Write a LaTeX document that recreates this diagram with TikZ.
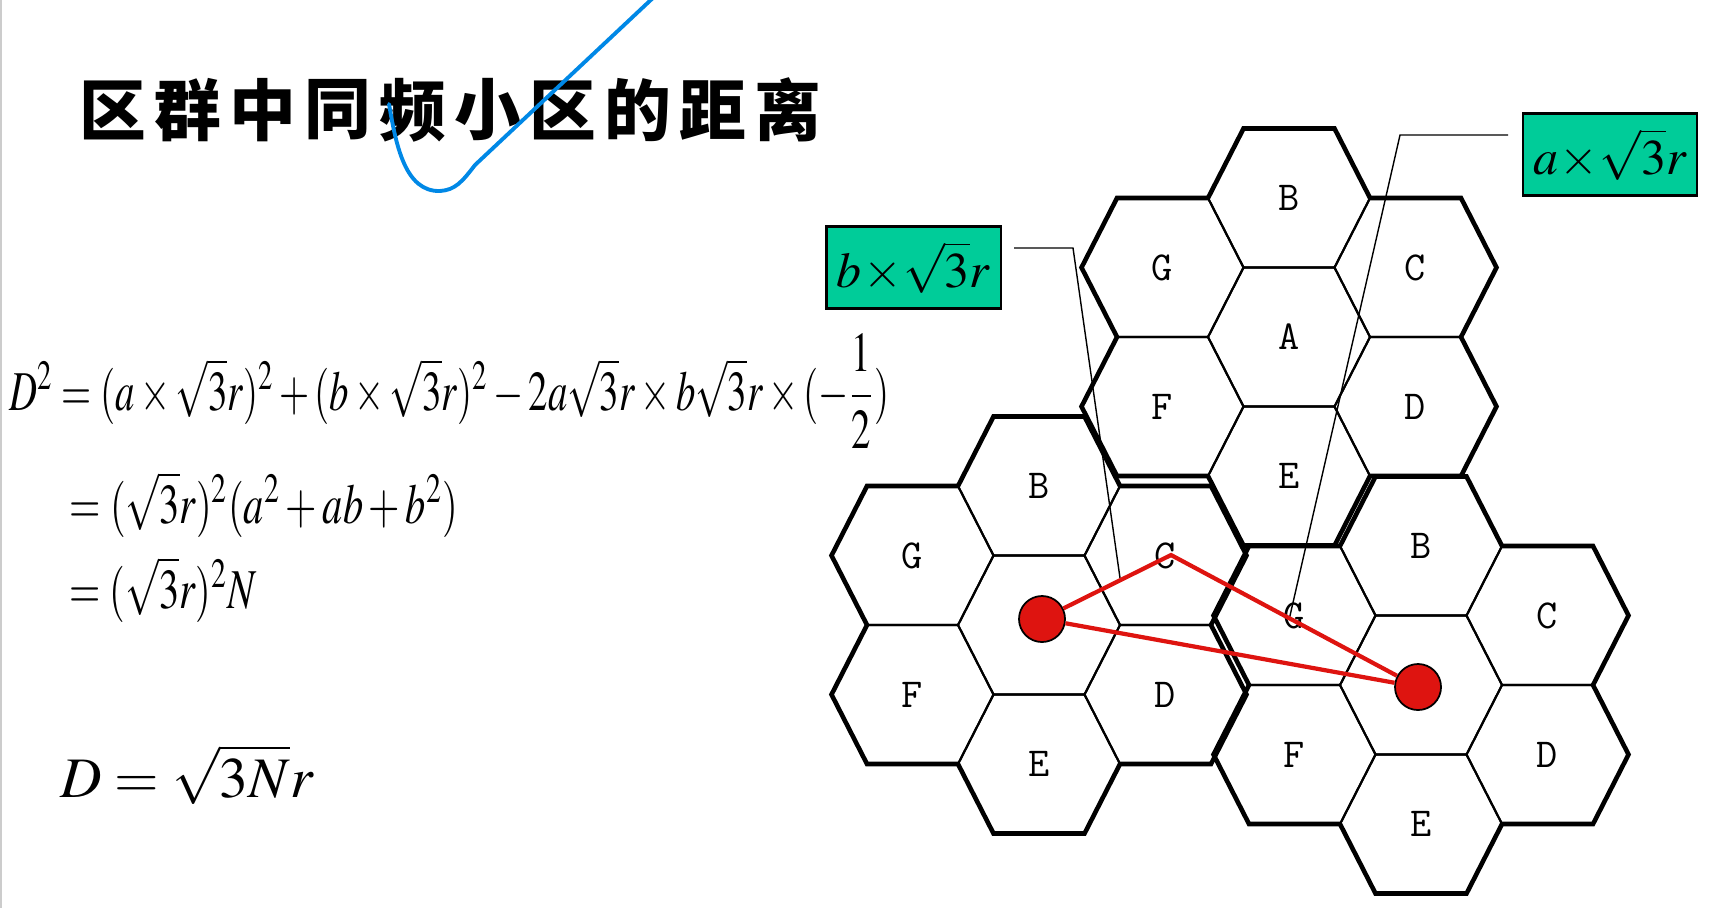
\documentclass[tikz,border=0pt]{standalone}
\usepackage{mathptmx}
\usepackage[no-math]{fontspec}
\newfontfamily\cjk{Noto Sans CJK SC}
\usetikzlibrary{positioning}
\definecolor{mygreen}{RGB}{0,204,153}
\definecolor{myred}{RGB}{222,20,16}
\definecolor{myblue}{RGB}{0,136,230}

\begin{document}
\begin{tikzpicture}[x=0.01cm,y=-0.01cm,
  cellline/.style={line width=0.6pt},
  rimline/.style={line width=1.3pt,line join=miter},
  cellname/.style={font=\ttfamily\fontsize{11.7}{12}\selectfont,inner sep=0pt},
  greenbox/.style={draw,line width=0.6pt,fill=mygreen,inner sep=1pt,
    minimum width=1.74cm,minimum height=0.82cm,font=\fontsize{14.2}{15}\selectfont},
  leader/.style={line width=0.4pt},
  redline/.style={myred,line width=1.2pt},
  dot/.style={circle,draw,line width=0.5pt,fill=myred,minimum size=0.46cm,inner sep=0pt},
  eqn/.style={anchor=base west,inner sep=0pt,font=\fontsize{16}{16}\selectfont},
  titlechar/.style={font=\cjk\bfseries\fontsize{19}{19}\selectfont,inner sep=0pt},
  cell/.pic={\draw[cellline] (81,0)--(45.5,-69.5)--(-45.5,-69.5)--(-81,0)
    --(-45.5,69.5)--(45.5,69.5)--cycle;}]

  \useasboundingbox (0,0) rectangle (1716,908);
  \draw[black!20,line width=0.6pt] (1,0) -- (1,908);

  % title
  \foreach \ch [count=\i from 0] in {区,群,中,同,频,小,区,的,距,离}
    \node[titlechar] (title\i) at (113+75*\i,110) {\ch};

  % pen stroke over the title
  \draw[myblue,line width=1.1pt,line cap=round] (389,104)
    .. controls (396,145) and (405,192) .. (440,191)
    .. controls (455,190) and (462,182) .. (475,165) -- (655,-4);

  % formulas
  \node[eqn] (eq1) at (9,410) {\resizebox{8.79cm}{\height}{$D^2=(a\times\sqrt{3}r)^2
    +(b\times\sqrt{3}r)^2-2a\sqrt{3}r\times b\sqrt{3}r\times(-{\displaystyle\frac{1}{2}})$}};
  \node[eqn] (eq2) at (69,523) {\resizebox{3.88cm}{\height}{$=(\sqrt{3}r)^2(a^2+ab+b^2)$}};
  \node[eqn] (eq3) at (69,608) {\resizebox{1.87cm}{\height}{$=(\sqrt{3}r)^2N$}};
  \node[eqn,font=\fontsize{16.3}{16}\selectfont] (eq4) at (60,797) {$D=\sqrt{3N}r$};

  % the three clusters
  \foreach \cx/\cy/\cl in {1289/337/one,1039/625/two,1421/685/three} {
    \foreach \dx/\dy/\lab in {0/-139/B,126.5/-69.5/C,126.5/69.5/D,0/139/E,
        -126.5/69.5/F,-126.5/-69.5/G} {
      \pic at (\cx+\dx,\cy+\dy) {cell};
      \node[cellname] (\cl-\lab) at (\cx+\dx,\cy+\dy) {\lab};
    }
    \pic at (\cx,\cy) {cell};
    % thick rim round the cluster
    \draw[rimline,shift={(\cx,\cy)}] (81,-139) -- (45.5,-208.5) -- (-45.5,-208.5)
      -- (-81,-139) -- (-172,-139) -- (-207.5,-69.5) -- (-172,0) -- (-207.5,69.5)
      -- (-172,139) -- (-81,139) -- (-45.5,208.5) -- (45.5,208.5) -- (81,139)
      -- (172,139) -- (207.5,69.5) -- (172,0) -- (207.5,-69.5) -- (172,-139) -- cycle;
  }
  \node[cellname] (one-A) at (1289,337) {A};

  % boxes and their leader lines
  \node[greenbox] (abox) at (1610,154.5) {$a\!\times\!\sqrt{3}r$};
  \node[greenbox] (bbox) at (913.5,267.5) {$b\!\times\!\sqrt{3}r$};
  \coordinate (aend) at (1508,135);
  \coordinate (aknee) at (1400,135);
  \coordinate (atip) at (1289,620);
  \coordinate (bend) at (1014,248);
  \coordinate (bknee) at (1073,248);
  \coordinate (btip) at (1120,578);
  \draw[leader] (aend) -- (aknee) -- (atip);
  \draw[leader] (bend) -- (bknee) -- (btip);

  % red triangle between the two co-channel cells
  \node[dot] (dotl) at (1042,619) {};
  \node[dot] (dotr) at (1418,687) {};
  \coordinate (apex) at (1171,555);
  \draw[redline] (dotl) -- (apex) -- (dotr);
  \draw[redline] (dotl) -- (dotr);

\end{tikzpicture}
\end{document}
